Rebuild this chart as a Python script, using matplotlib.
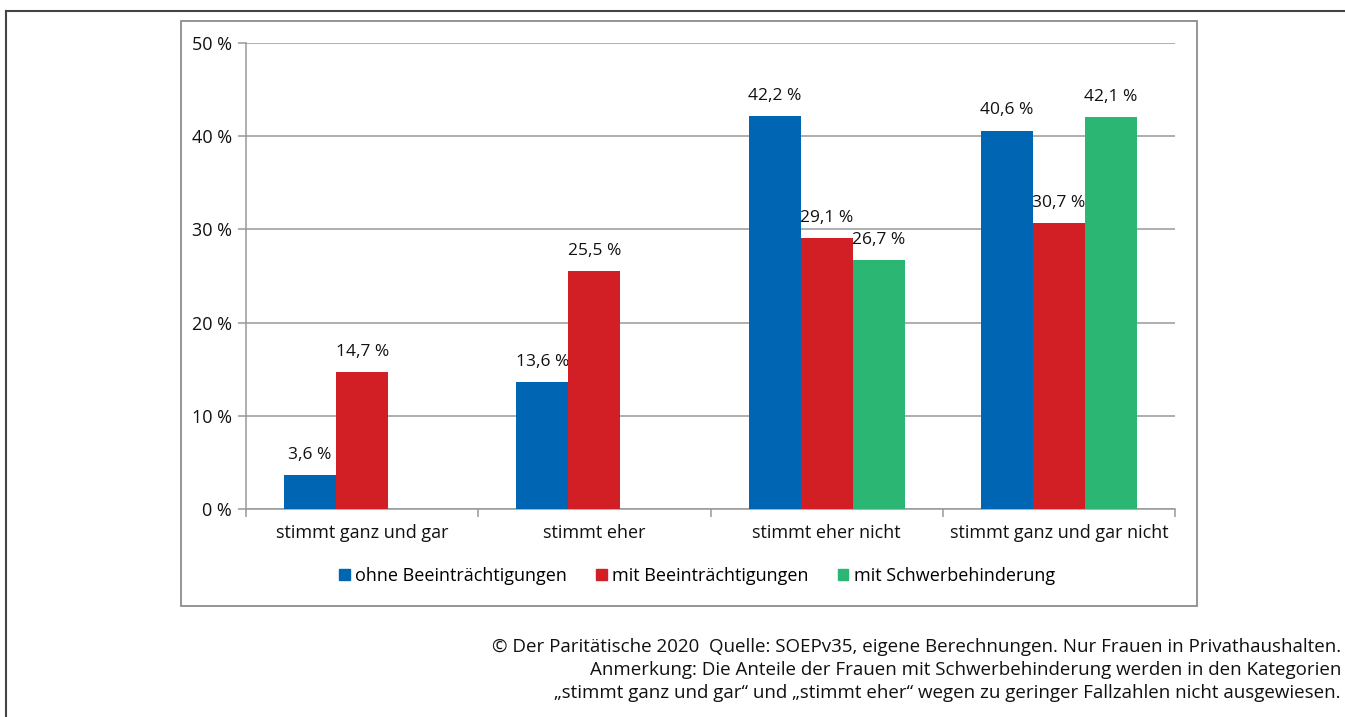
import matplotlib.pyplot as plt
import numpy as np
from matplotlib.patches import Rectangle
from matplotlib.lines import Line2D

plt.rcParams['font.family'] = ['Open Sans', 'DejaVu Sans']

categories = ['stimmt ganz und gar', 'stimmt eher', 'stimmt eher nicht', 'stimmt ganz und gar nicht']
series = ['ohne Beeinträchtigungen', 'mit Beeinträchtigungen', 'mit Schwerbehinderung']
ohne = [3.6, 13.6, 42.2, 40.6]
mit = [14.7, 25.5, 29.1, 30.7]
schwer = [None, None, 26.7, 42.1]
colors = ['#0066b3', '#d21f26', '#2bb673']
yticks = [0, 10, 20, 30, 40, 50]

W, H = 1345, 717
fig = plt.figure(figsize=(W / 100, H / 100), dpi=100)

# outer frame lines
fig.add_artist(Line2D([6 / W, 1], [1 - 11 / H, 1 - 11 / H], color='#444444', lw=1.5, transform=fig.transFigure))
fig.add_artist(Line2D([6 / W, 6 / W], [0, 1 - 11 / H], color='#444444', lw=1.5, transform=fig.transFigure))
# inner chart box
fig.add_artist(Rectangle((181 / W, 1 - 606 / H), (1197 - 181) / W, (606 - 21) / H,
                         fill=False, edgecolor='#8c8c8c', lw=1.3, transform=fig.transFigure))

ax = fig.add_axes([246 / W, 1 - 509 / H, (1175 - 246) / W, (509 - 43) / H])
x = np.arange(len(categories))
bw = 0.224
for i, (vals, c) in enumerate(zip([ohne, mit, schwer], colors)):
    for j, v in enumerate(vals):
        if v is None:
            continue
        xp = x[j] + (i - 1) * bw
        ax.bar(xp, v, width=bw, color=c, zorder=3)
        ax.text(xp, v + 1.3, f'{v:.1f} %'.replace('.', ','), ha='center', va='bottom',
                fontsize=12.5, color='#111111')

ax.set_xlim(-0.5, len(categories) - 0.5)
ax.set_ylim(0, 50)
ax.set_yticks(yticks)
ax.set_yticklabels([f'{t} %' for t in yticks], fontsize=13, color='#111111')
ax.yaxis.grid(True, color='#999999', lw=1.1, zorder=0)
ax.tick_params(axis='y', length=6, color='#999999', width=1.1, pad=4)
ax.set_xticks(x)
ax.set_xticklabels(categories, fontsize=13, color='#111111')
ax.tick_params(axis='x', which='major', length=0, pad=11)
ax.set_xticks(np.arange(-0.5, len(categories)), minor=True)
ax.tick_params(axis='x', which='minor', length=6, color='#999999', width=1.1)
for s in ['top', 'right']:
    ax.spines[s].set_visible(False)
for s in ['left', 'bottom']:
    ax.spines[s].set_color('#999999')
    ax.spines[s].set_linewidth(1.1)

handles = [Rectangle((0, 0), 1, 1, color=c) for c in colors]
fig.legend(handles, series, loc='center', bbox_to_anchor=(697 / W, 1 - 576 / H), ncol=3,
           frameon=False, fontsize=13, handlelength=0.6, handleheight=0.6,
           handletextpad=0.3, columnspacing=1.6)

notes = ['© Der Paritätische 2020  Quelle: SOEPv35, eigene Berechnungen. Nur Frauen in Privathaushalten.',
         'Anmerkung: Die Anteile der Frauen mit Schwerbehinderung werden in den Kategorien',
         '„stimmt ganz und gar“ und „stimmt eher“ wegen zu geringer Fallzahlen nicht ausgewiesen.']
for k, line in enumerate(notes):
    fig.text(1341 / W, 1 - (647 + 23 * k) / H, line, ha='right', va='center', fontsize=13.5, color='#111111')

fig.savefig('out.png', dpi=100)
